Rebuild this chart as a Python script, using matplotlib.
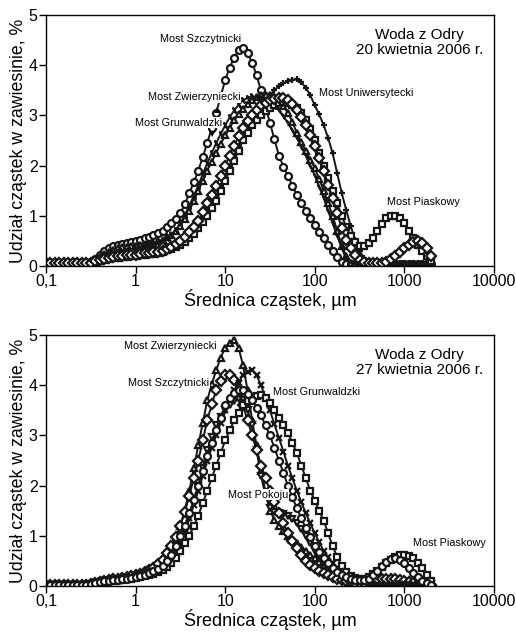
import matplotlib
matplotlib.use("Agg")
import matplotlib.pyplot as plt
from matplotlib.ticker import FixedLocator, NullLocator

plt.rcParams['font.family'] = ['Liberation Sans', 'DejaVu Sans']

# particle diameter grid (um), 20 classes per decade
diam = [0.1, 0.112, 0.126, 0.141, 0.158, 0.178, 0.2, 0.224, 0.251, 0.282,
        0.316, 0.355, 0.398, 0.447, 0.501, 0.562, 0.631, 0.708, 0.794, 0.891,
        1.0, 1.12, 1.26, 1.41, 1.58, 1.78, 2.0, 2.24, 2.51, 2.82,
        3.16, 3.55, 3.98, 4.47, 5.01, 5.62, 6.31, 7.08, 7.94, 8.91,
        10, 11.2, 12.6, 14.1, 15.8, 17.8, 20, 22.4, 25.1, 28.2,
        31.6, 35.5, 39.8, 44.7, 50.1, 56.2, 63.1, 70.8, 79.4, 89.1,
        100, 112, 126, 141, 158, 178, 200, 224, 251, 282,
        316, 355, 398, 447, 501, 562, 631, 708, 794, 891,
        1000, 1122, 1259, 1413, 1585, 1778, 1995]

# ---- 20 April 2006 ----
a_szczytnicki = [0.05, 0.05, 0.05, 0.05, 0.05, 0.05, 0.05, 0.05, 0.05, 0.05,
                 0.08, 0.14, 0.22, 0.29, 0.35, 0.39, 0.42, 0.44, 0.45, 0.47,
                 0.50, 0.52, 0.55, 0.58, 0.62, 0.66, 0.70, 0.77, 0.85, 0.94,
                 1.05, 1.23, 1.45, 1.67, 1.90, 2.17, 2.45, 2.75, 3.05, 3.38,
                 3.70, 3.95, 4.15, 4.30, 4.35, 4.25, 4.05, 3.80, 3.50, 3.18,
                 2.85, 2.52, 2.20, 1.98, 1.80, 1.60, 1.42, 1.25, 1.10, 0.96,
                 0.82, 0.68, 0.55, 0.42, 0.30, 0.18, 0.08, 0.04, 0.04, 0.04,
                 0.04, 0.04, 0.04, 0.04, 0.04, 0.04, 0.04, 0.04, 0.04, 0.04,
                 0.04, 0.04, 0.04, 0.04, 0.04, 0.04, 0.04]
a_zwierzyniecki = [0.05, 0.05, 0.05, 0.05, 0.05, 0.05, 0.05, 0.05, 0.05, 0.05,
                   0.07, 0.12, 0.18, 0.23, 0.28, 0.32, 0.35, 0.37, 0.38, 0.39,
                   0.40, 0.41, 0.42, 0.44, 0.46, 0.49, 0.52, 0.57, 0.62, 0.70,
                   0.80, 0.94, 1.10, 1.30, 1.50, 1.70, 1.90, 2.08, 2.25, 2.43,
                   2.60, 2.75, 2.90, 3.02, 3.12, 3.22, 3.30, 3.36, 3.40, 3.41,
                   3.40, 3.36, 3.30, 3.18, 3.05, 2.87, 2.65, 2.47, 2.30, 2.12,
                   1.95, 1.73, 1.50, 1.25, 1.00, 0.70, 0.40, 0.20, 0.06, 0.04,
                   0.04, 0.04, 0.04, 0.04, 0.04, 0.04, 0.04, 0.04, 0.04, 0.04,
                   0.04, 0.04, 0.04, 0.04, 0.04, 0.04, 0.04]
a_grunwaldzki = [0.05, 0.05, 0.05, 0.05, 0.05, 0.05, 0.05, 0.05, 0.05, 0.05,
                 0.07, 0.11, 0.15, 0.19, 0.22, 0.25, 0.27, 0.29, 0.30, 0.32,
                 0.33, 0.35, 0.37, 0.40, 0.42, 0.46, 0.50, 0.56, 0.62, 0.72,
                 0.85, 1.02, 1.20, 1.40, 1.60, 1.83, 2.05, 2.25, 2.45, 2.63,
                 2.80, 2.96, 3.10, 3.21, 3.30, 3.35, 3.38, 3.37, 3.35, 3.30,
                 3.25, 3.18, 3.10, 2.98, 2.85, 2.70, 2.55, 2.38, 2.20, 2.00,
                 1.80, 1.58, 1.35, 1.10, 0.85, 0.60, 0.35, 0.15, 0.07, 0.04,
                 0.04, 0.04, 0.04, 0.04, 0.04, 0.04, 0.04, 0.04, 0.04, 0.04,
                 0.04, 0.04, 0.04, 0.04, 0.04, 0.04, 0.04]
a_uniwersytecki = [0.05, 0.05, 0.05, 0.05, 0.05, 0.05, 0.05, 0.05, 0.05, 0.05,
                   0.06, 0.08, 0.10, 0.12, 0.14, 0.16, 0.17, 0.18, 0.19, 0.20,
                   0.20, 0.21, 0.22, 0.23, 0.25, 0.27, 0.30, 0.33, 0.36, 0.40,
                   0.45, 0.52, 0.60, 0.70, 0.80, 0.95, 1.10, 1.25, 1.40, 1.60,
                   1.80, 2.00, 2.20, 2.40, 2.60, 2.78, 2.95, 3.08, 3.20, 3.30,
                   3.40, 3.50, 3.58, 3.64, 3.68, 3.71, 3.72, 3.66, 3.55, 3.40,
                   3.20, 3.02, 2.80, 2.55, 2.25, 1.85, 1.45, 1.12, 0.80, 0.52,
                   0.30, 0.16, 0.08, 0.05, 0.05, 0.05, 0.05, 0.05, 0.05, 0.05,
                   0.05, 0.05, 0.05, 0.05, 0.05, 0.05, 0.05]
a_piaskowy = [0.05, 0.05, 0.05, 0.05, 0.05, 0.05, 0.05, 0.05, 0.05, 0.05,
              0.06, 0.08, 0.10, 0.12, 0.14, 0.15, 0.16, 0.17, 0.18, 0.19,
              0.20, 0.21, 0.22, 0.23, 0.24, 0.26, 0.28, 0.31, 0.34, 0.38,
              0.42, 0.48, 0.55, 0.64, 0.75, 0.87, 1.00, 1.15, 1.30, 1.50,
              1.70, 1.90, 2.10, 2.30, 2.50, 2.65, 2.80, 2.90, 3.00, 3.08,
              3.15, 3.20, 3.25, 3.26, 3.25, 3.21, 3.15, 3.04, 2.90, 2.72,
              2.50, 2.25, 2.00, 1.75, 1.50, 1.25, 1.00, 0.78, 0.60, 0.48,
              0.40, 0.40, 0.45, 0.56, 0.70, 0.83, 0.95, 1.00, 1.00, 0.95,
              0.85, 0.70, 0.55, 0.42, 0.30, 0.20, 0.10]
a_inny = [0.05, 0.05, 0.05, 0.05, 0.05, 0.05, 0.05, 0.05, 0.05, 0.05,
          0.06, 0.09, 0.12, 0.14, 0.16, 0.18, 0.19, 0.20, 0.21, 0.21,
          0.22, 0.23, 0.25, 0.26, 0.27, 0.28, 0.30, 0.34, 0.38, 0.44,
          0.50, 0.58, 0.68, 0.78, 0.90, 1.07, 1.25, 1.42, 1.60, 1.80,
          2.00, 2.20, 2.40, 2.58, 2.75, 2.88, 3.00, 3.10, 3.20, 3.25,
          3.30, 3.33, 3.35, 3.34, 3.30, 3.22, 3.10, 2.96, 2.80, 2.60,
          2.40, 2.15, 1.90, 1.62, 1.35, 1.05, 0.75, 0.52, 0.35, 0.22,
          0.12, 0.07, 0.05, 0.05, 0.05, 0.06, 0.08, 0.13, 0.20, 0.27,
          0.35, 0.42, 0.48, 0.50, 0.45, 0.35, 0.20]

# ---- 27 April 2006 ----
b_zwierzyniecki = [0.03, 0.03, 0.03, 0.03, 0.03, 0.03, 0.03, 0.03, 0.03, 0.03,
                   0.04, 0.06, 0.08, 0.10, 0.12, 0.13, 0.14, 0.15, 0.16, 0.18,
                   0.20, 0.22, 0.25, 0.29, 0.33, 0.40, 0.48, 0.60, 0.75, 0.95,
                   1.20, 1.52, 1.90, 2.35, 2.80, 3.25, 3.70, 4.02, 4.30, 4.55,
                   4.75, 4.85, 4.90, 4.75, 4.40, 3.90, 3.30, 2.80, 2.30, 1.88,
                   1.50, 1.32, 1.20, 1.10, 1.00, 0.92, 0.85, 0.78, 0.70, 0.62,
                   0.55, 0.48, 0.42, 0.35, 0.28, 0.22, 0.18, 0.14, 0.10, 0.08,
                   0.06, 0.05, 0.05, 0.05, 0.05, 0.05, 0.05, 0.05, 0.05, 0.05,
                   0.05, 0.05, 0.05, 0.05, 0.05, 0.05, 0.05]
b_pokoju = [0.03, 0.03, 0.03, 0.03, 0.03, 0.03, 0.03, 0.03, 0.03, 0.03,
            0.04, 0.06, 0.08, 0.10, 0.11, 0.12, 0.13, 0.14, 0.15, 0.16,
            0.18, 0.20, 0.22, 0.25, 0.28, 0.33, 0.38, 0.46, 0.55, 0.68,
            0.85, 1.08, 1.35, 1.65, 2.00, 2.35, 2.70, 2.97, 3.20, 3.37,
            3.50, 3.60, 3.68, 3.72, 3.70, 3.50, 3.20, 2.70, 2.20, 1.80,
            1.55, 1.48, 1.45, 1.43, 1.40, 1.34, 1.25, 1.13, 1.00, 0.85,
            0.70, 0.57, 0.45, 0.35, 0.25, 0.18, 0.12, 0.08, 0.06, 0.05,
            0.05, 0.05, 0.05, 0.05, 0.05, 0.05, 0.05, 0.05, 0.05, 0.05,
            0.05, 0.05, 0.05, 0.05, 0.05, 0.05, 0.05]
b_szczytnicki = [0.03, 0.03, 0.03, 0.03, 0.03, 0.03, 0.03, 0.03, 0.03, 0.03,
                 0.04, 0.07, 0.09, 0.11, 0.12, 0.14, 0.15, 0.16, 0.17, 0.19,
                 0.21, 0.24, 0.27, 0.31, 0.36, 0.43, 0.52, 0.65, 0.80, 0.98,
                 1.20, 1.48, 1.80, 2.15, 2.50, 2.90, 3.30, 3.62, 3.90, 4.08,
                 4.20, 4.20, 4.10, 3.88, 3.60, 3.30, 3.00, 2.70, 2.40, 2.15,
                 1.90, 1.67, 1.45, 1.25, 1.05, 0.90, 0.75, 0.62, 0.50, 0.42,
                 0.35, 0.30, 0.25, 0.21, 0.18, 0.15, 0.12, 0.10, 0.08, 0.07,
                 0.06, 0.07, 0.08, 0.10, 0.12, 0.14, 0.15, 0.15, 0.15, 0.13,
                 0.10, 0.08, 0.06, 0.05, 0.04, 0.03, 0.03]
b_grunwaldzki = [0.03, 0.03, 0.03, 0.03, 0.03, 0.03, 0.03, 0.03, 0.03, 0.03,
                 0.05, 0.08, 0.10, 0.12, 0.13, 0.14, 0.15, 0.16, 0.17, 0.18,
                 0.20, 0.22, 0.24, 0.27, 0.30, 0.35, 0.40, 0.48, 0.58, 0.72,
                 0.90, 1.12, 1.35, 1.62, 1.90, 2.20, 2.50, 2.75, 3.00, 3.25,
                 3.50, 3.70, 3.90, 4.05, 4.20, 4.27, 4.30, 4.20, 4.00, 3.75,
                 3.50, 3.22, 2.95, 2.68, 2.40, 2.15, 1.90, 1.67, 1.45, 1.25,
                 1.05, 0.87, 0.70, 0.57, 0.45, 0.36, 0.28, 0.21, 0.15, 0.11,
                 0.08, 0.06, 0.04, 0.04, 0.04, 0.04, 0.04, 0.04, 0.04, 0.04,
                 0.04, 0.04, 0.04, 0.04, 0.04, 0.04, 0.04]
b_piaskowy = [0.03, 0.03, 0.03, 0.03, 0.03, 0.03, 0.03, 0.03, 0.03, 0.03,
              0.04, 0.06, 0.07, 0.09, 0.10, 0.11, 0.12, 0.13, 0.14, 0.15,
              0.16, 0.17, 0.19, 0.21, 0.24, 0.28, 0.32, 0.38, 0.45, 0.56,
              0.70, 0.85, 1.00, 1.20, 1.40, 1.65, 1.90, 2.15, 2.40, 2.65,
              2.90, 3.10, 3.30, 3.45, 3.60, 3.68, 3.75, 3.78, 3.80, 3.75,
              3.65, 3.50, 3.35, 3.20, 3.05, 2.85, 2.65, 2.40, 2.15, 1.90,
              1.70, 1.50, 1.30, 1.05, 0.80, 0.58, 0.40, 0.28, 0.20, 0.16,
              0.14, 0.15, 0.18, 0.23, 0.30, 0.38, 0.45, 0.52, 0.58, 0.61,
              0.62, 0.60, 0.55, 0.45, 0.35, 0.22, 0.10]
b_inny = [0.03, 0.03, 0.03, 0.03, 0.03, 0.03, 0.03, 0.03, 0.03, 0.03,
          0.04, 0.06, 0.08, 0.10, 0.11, 0.12, 0.13, 0.14, 0.15, 0.16,
          0.18, 0.20, 0.22, 0.25, 0.29, 0.34, 0.40, 0.50, 0.62, 0.80,
          1.00, 1.20, 1.45, 1.72, 2.00, 2.30, 2.60, 2.85, 3.10, 3.35,
          3.60, 3.75, 3.85, 3.90, 3.90, 3.82, 3.70, 3.55, 3.40, 3.20,
          3.00, 2.75, 2.50, 2.25, 2.00, 1.77, 1.55, 1.35, 1.15, 0.97,
          0.80, 0.67, 0.55, 0.45, 0.35, 0.28, 0.22, 0.18, 0.15, 0.13,
          0.12, 0.13, 0.15, 0.21, 0.30, 0.40, 0.48, 0.53, 0.55, 0.52,
          0.45, 0.35, 0.25, 0.17, 0.10, 0.06, 0.03]

tick_mk = (2, 2, 30)
top_series = [(a_szczytnicki, 'o'), (a_zwierzyniecki, '^'), (a_grunwaldzki, tick_mk),
              (a_uniwersytecki, '+'), (a_piaskowy, 's'), (a_inny, 'D')]
bot_series = [(b_zwierzyniecki, '^'), (b_pokoju, 'v'), (b_szczytnicki, 'D'),
              (b_grunwaldzki, 'x'), (b_piaskowy, 's'), (b_inny, 'o')]

top_labels = [("Most Szczytnicki", 0.254, 0.904), ("Most Zwierzyniecki", 0.228, 0.673),
              ("Most Grunwaldzki", 0.199, 0.570), ("Most Uniwersytecki", 0.609, 0.689),
              ("Most Piaskowy", 0.761, 0.255)]
bot_labels = [("Most Zwierzyniecki", 0.174, 0.956), ("Most Szczytnicki", 0.183, 0.809),
              ("Most Grunwaldzki", 0.507, 0.773), ("Most Pokoju", 0.406, 0.363),
              ("Most Piaskowy", 0.819, 0.171)]

xticks = [0.1, 1, 10, 100, 1000, 10000]
xticklabels = ["0,1", "1", "10", "100", "1000", "10000"]
yticks = [0, 1, 2, 3, 4, 5]

fig = plt.figure(figsize=(5.16, 6.33), dpi=100)
ax1 = fig.add_axes([0.0891, 0.5798, 0.8682, 0.3965])
ax2 = fig.add_axes([0.0891, 0.0742, 0.8682, 0.3965])

INK = '#161616'


def draw(ax, series, labels, title):
    for vals, mk in series:
        ax.plot(diam, vals, color=INK, lw=1.4, marker=mk, ms=5.0,
                mfc='white', mec=INK, mew=1.6)
    ax.set_xscale('log')
    ax.set_xlim(0.1, 10000)
    ax.set_ylim(0, 5)
    ax.xaxis.set_major_locator(FixedLocator(xticks))
    ax.xaxis.set_minor_locator(NullLocator())
    ax.set_xticklabels(xticklabels)
    ax.set_yticks(yticks)
    ax.tick_params(direction='out', length=5, width=1, labelsize=11.5, pad=1)
    for s in ax.spines.values():
        s.set_linewidth(1.0)
    ax.set_xlabel("Średnica cząstek, µm", fontsize=13, labelpad=0)
    ax.set_ylabel("Udział cząstek w zawiesinie, %", fontsize=12.8, labelpad=1)
    for txt, fx, fy in labels:
        ax.text(fx, fy, txt, transform=ax.transAxes, fontsize=7.8, ha='left', va='center',
                bbox=dict(facecolor='white', edgecolor='none', pad=0.3), zorder=5)
    ax.text(0.833, 0.89, title, transform=ax.transAxes, fontsize=11, ha='center',
            va='center', linespacing=1.1)


draw(ax1, top_series, top_labels, "Woda z Odry\n20 kwietnia 2006 r.")
draw(ax2, bot_series, bot_labels, "Woda z Odry\n27 kwietnia 2006 r.")
ax1.text(0.383, 0.623, "▲", transform=ax1.transAxes, fontsize=6, ha='center', va='center',
         family='DejaVu Sans', zorder=6)
ax1.text(0.372, 0.527, "▼", transform=ax1.transAxes, fontsize=6, ha='center', va='center',
         family='DejaVu Sans', zorder=6)

fig.savefig("out.png", dpi=100)
